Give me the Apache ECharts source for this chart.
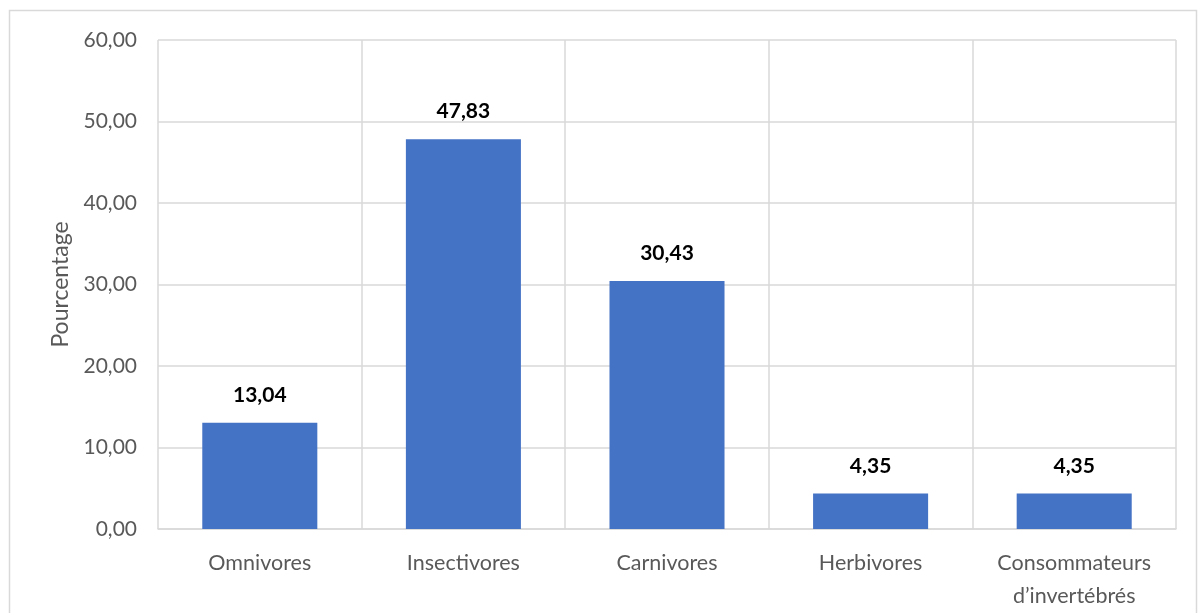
<!DOCTYPE html>
<html>
<head>
<meta charset="utf-8">
<script src="https://cdn.jsdelivr.net/npm/echarts@6/dist/echarts.min.js"></script>
<style>
  html, body { margin: 0; padding: 0; background: #fff; }
  #chart { width: 1199px; height: 613px; }
</style>
</head>
<body>
<div id="chart"></div>
<script>
// Régimes alimentaires (% des espèces)
const categories = ['Omnivores', 'Insectivores', 'Carnivores', 'Herbivores', 'Consommateurs\nd\u2019invertébrés'];
const percentages = [13.04, 47.83, 30.43, 4.35, 4.35];
const axisName = 'Pourcentage';

const fmt = v => v.toFixed(2).replace('.', ',');
const FONT = 'Lato, "Open Sans", sans-serif';

const chart = echarts.init(document.getElementById('chart'), null, { renderer: 'canvas' });
chart.setOption({
  animation: false,
  backgroundColor: '#ffffff',
  graphic: [{
    type: 'rect',
    shape: { x: 9.5, y: 10.5, width: 1187, height: 620 },
    style: { fill: 'none', stroke: '#d9d9d9', lineWidth: 1.5 },
    silent: true
  }],
  grid: { left: 158, right: 23, top: 40, bottom: 82, containLabel: false },
  xAxis: {
    type: 'category',
    data: categories,
    axisLine: { show: true, lineStyle: { color: '#d9d9d9', width: 1.5 } },
    axisTick: { show: false },
    splitLine: { show: true, lineStyle: { color: '#d9d9d9', width: 1.5 } },
    axisLabel: { color: '#595959', fontSize: 21.5, fontFamily: FONT, margin: 18, lineHeight: 33, interval: 0 }
  },
  yAxis: {
    type: 'value',
    min: 0, max: 60, interval: 10,
    name: axisName,
    nameLocation: 'middle',
    nameGap: 86,
    nameRotate: 90,
    nameTextStyle: { color: '#595959', fontSize: 23, fontFamily: FONT },
    axisLine: { show: false },
    axisTick: { show: false },
    splitLine: { show: true, lineStyle: { color: '#d9d9d9', width: 1.5 } },
    axisLabel: { color: '#595959', fontSize: 21, fontFamily: FONT, margin: 21, formatter: fmt }
  },
  series: [{
    type: 'bar',
    data: percentages,
    barWidth: '56.5%',
    itemStyle: { color: '#4472c4' },
    label: {
      show: true,
      position: 'top',
      distance: 17,
      color: '#000000',
      fontSize: 21,
      fontWeight: 'bold',
      fontFamily: FONT,
      formatter: p => fmt(p.value)
    }
  }]
});
</script>
</body>
</html>
